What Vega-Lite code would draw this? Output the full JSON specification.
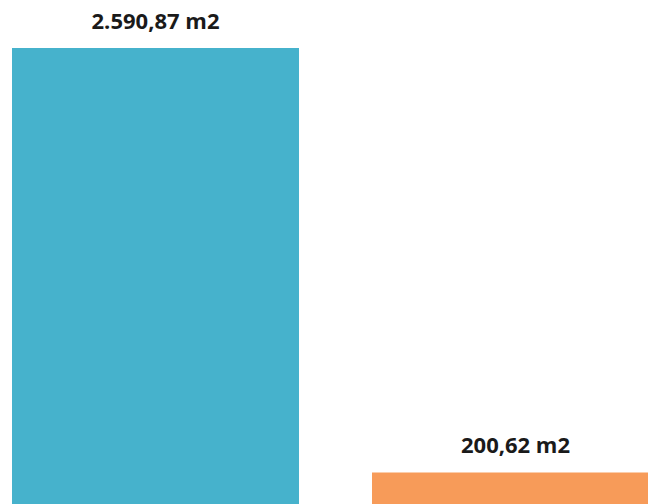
{
  "$schema": "https://vega.github.io/schema/vega-lite/v6.json",
  "width": 648,
  "height": 504,
  "padding": 0,
  "autosize": {"type": "none"},
  "background": "white",
  "config": {"view": {"stroke": null}},
  "data": {"values": [
    {"cat": "A", "value": 2590.87, "label": "2.590,87 m2", "color": "#46B2CC"},
    {"cat": "B", "value": 200.62, "label": "200,62 m2", "color": "#F79B59"}
  ]},
  "encoding": {
    "x": {"field": "cat", "type": "nominal", "axis": null,
      "scale": {"range": [12, 659], "paddingInner": 0.2028, "paddingOuter": 0}},
    "y": {"field": "value", "type": "quantitative", "axis": null,
      "scale": {"domain": [0, 2590.87], "range": [508, 48], "nice": false, "zero": true}}
  },
  "layer": [
    {"mark": {"type": "bar"},
     "encoding": {"color": {"field": "color", "type": "nominal", "scale": null, "legend": null}}},
    {"mark": {"type": "text", "baseline": "alphabetic", "dy": -19, "font": "Open Sans", "fontSize": 22, "fontWeight": "bold", "color": "#1a1a1a"},
     "encoding": {"text": {"field": "label", "type": "nominal"}}}
  ]
}
